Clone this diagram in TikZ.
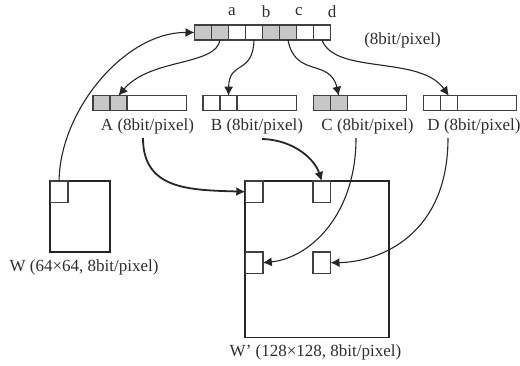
\documentclass[tikz,border=0pt]{standalone}
\usepackage{fontspec}
\setmainfont{Liberation Serif}
\usetikzlibrary{arrows.meta}
\definecolor{ln}{gray}{0.25}
\definecolor{gr}{gray}{0.78}
\definecolor{tx}{gray}{0.18}
\tikzset{
  x=1pt,y=-1pt,
  cell/.style={draw=ln,line width=1.3pt,inner sep=0pt,outer sep=0pt,minimum height=15pt,minimum width=17pt,anchor=north west},
  tail/.style={cell,minimum width=59.5pt},
  shade/.style={fill=gr},
  frame/.style={draw=black!85,line width=1.8pt,inner sep=0pt,outer sep=0pt,anchor=north west},
  sub/.style={draw=ln,line width=1.4pt,inner sep=0pt,outer sep=0pt,minimum width=17.5pt,minimum height=21.5pt,anchor=north west},
  lab/.style={text=tx,inner sep=0pt,font=\fontsize{17pt}{18pt}\selectfont},
  conn/.style={draw=black!85,line width=1.1pt,-{Latex[length=9pt,width=9pt]}},
  thick conn/.style={conn,line width=1.8pt}
}
\begin{document}
\begin{tikzpicture}
\useasboundingbox (0,0) rectangle (520,366);
% top bar
\foreach \i/\f in {1/gr,2/gr,3/white,4/white,5/gr,6/gr,7/white,8/white}
  \node[cell,fill=\f] (t\i) at ({194.5+17*(\i-1)},25) {};
% A
\node[cell,shade] (a1) at (93,95.7) {};
\node[cell,shade] (a2) at (110,95.7) {};
\node[tail] (a3) at (127,95.7) {};
% B
\node[cell] (b1) at (203,95.7) {};
\node[cell] (b2) at (220,95.7) {};
\node[tail] (b3) at (237,95.7) {};
% C
\node[cell,shade] (c1) at (313.3,95.7) {};
\node[cell,shade] (c2) at (330.3,95.7) {};
\node[tail] (c3) at (347.3,95.7) {};
% D
\node[cell] (d1) at (423.3,95.7) {};
\node[cell] (d2) at (440.3,95.7) {};
\node[tail] (d3) at (457.3,95.7) {};
% W
\node[frame,minimum width=60pt,minimum height=71pt] (w) at (50.3,181) {};
\node[sub] (w1) at (50.3,181) {};
% W'
\node[frame,minimum width=144pt,minimum height=156.5pt] (wp) at (245.3,181) {};
\node[sub] (q1) at (245.3,181) {};
\node[sub] (q2) at (313,181) {};
\node[sub] (q3) at (245.3,252) {};
\node[sub] (q4) at (313,252) {};
% labels
\node[lab] (la) at (232,12) {a};
\node[lab] (lb) at (266,12) {b};
\node[lab] (lc) at (299,12) {c};
\node[lab] (ld) at (332,12) {d};
\node[lab] (l8) at (402.5,40) {(8bit/pixel)};
\node[lab] (lA) at (147.5,126) {A (8bit/pixel)};
\node[lab] (lB) at (257,126) {B (8bit/pixel)};
\node[lab] (lC) at (367.5,126) {C (8bit/pixel)};
\node[lab] (lD) at (474,126) {D (8bit/pixel)};
\node[lab] (lW) at (84,267) {W (64×64, 8bit/pixel)};
\node[lab] (lWp) at (315.5,352) {W’ (128×128, 8bit/pixel)};
% connector free ends
\coordinate (sA) at (143,138);
\coordinate (sB) at (262,139);
\coordinate (sC) at (356,138);
\coordinate (sD) at (448,138);
% connectors
\draw[conn] (w1.north) .. controls (60,110) and (125,32) .. (t1.west);
\draw[conn] (t2.south) .. controls (216,66) and (150,58) .. (a2.north);
\draw[conn] (t4.south) .. controls (253,75) and (229,60) .. (b2.north);
\draw[conn] (t6.south) .. controls (295,78) and (330,58) .. (c2.north);
\draw[conn] (t8.south) .. controls (335,75) and (420,55) .. (d2.north);
\draw[thick conn] (sA) .. controls (143,190) and (190,190) .. (q1.west);
\draw[thick conn] (sB) .. controls (295,140) and (315,160) .. (q2.north);
\draw[conn] (sC) .. controls (356,215) and (310,258) .. (q3.east);
\draw[conn] (sD) .. controls (448,235) and (380,262) .. (q4.east);
\end{tikzpicture}
\end{document}
